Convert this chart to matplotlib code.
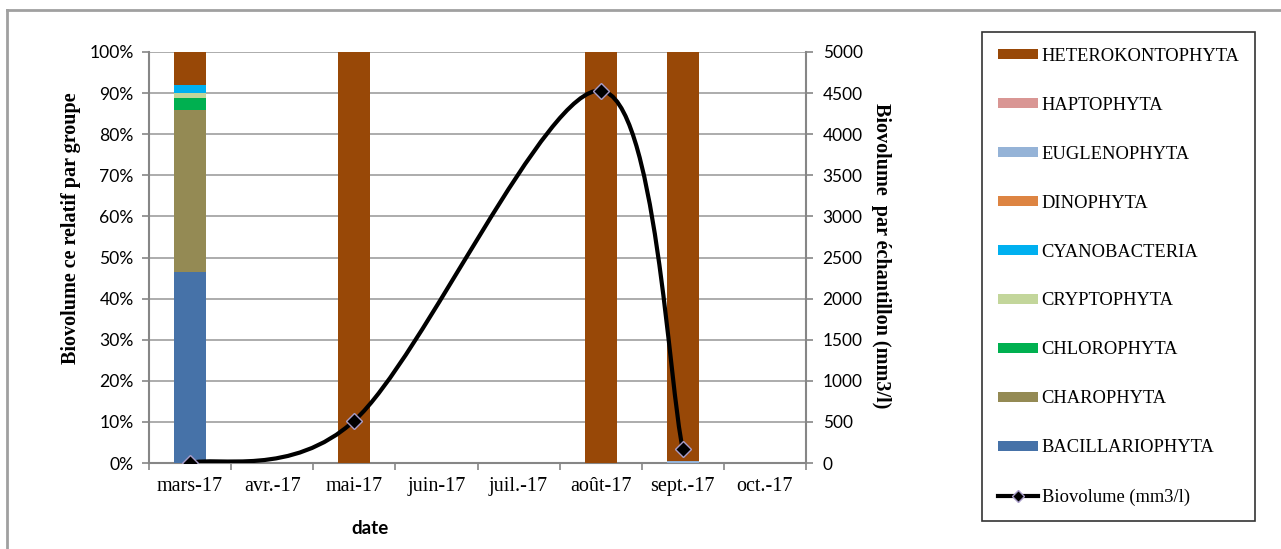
import numpy as np
import matplotlib.pyplot as plt
from matplotlib.path import Path
from matplotlib.patches import PathPatch, Patch
from matplotlib.lines import Line2D

# --- data ---
months = ["mars-17", "avr.-17", "mai-17", "juin-17", "juil.-17", "août-17", "sept.-17", "oct.-17"]
sample_idx = [0, 2, 5, 6]  # mars, mai, août, sept

groups = ["BACILLARIOPHYTA", "CHAROPHYTA", "CHLOROPHYTA", "CRYPTOPHYTA", "CYANOBACTERIA",
          "DINOPHYTA", "EUGLENOPHYTA", "HAPTOPHYTA", "HETEROKONTOPHYTA"]
colors = ["#4672A8", "#948A54", "#00B050", "#C3D69B", "#00B0F0",
          "#DD8442", "#95B3D7", "#D99694", "#984807"]

# relative biovolume (%) per sample
bacillariophyta = [46.4, 0, 0, 0]
charophyta = [39.4, 0, 0, 0]
chlorophyta = [3.1, 0, 0, 0]
cryptophyta = [1.1, 0, 0, 0]
cyanobacteria = [2.0, 0, 0, 0]
dinophyta = [0, 0, 0, 0]
euglenophyta = [0, 0, 0, 0.5]
haptophyta = [0, 0, 0, 0]
heterokontophyta = [8.0, 100, 100, 99.5]

biovolume = [0, 515, 4530, 170]  # mm3/l

stacks = [bacillariophyta, charophyta, chlorophyta, cryptophyta, cyanobacteria,
          dinophyta, euglenophyta, haptophyta, heterokontophyta]

serif = "Liberation Serif"
sans = "Lato"
W, H = 1281, 549

fig = plt.figure(figsize=(W / 100, H / 100), dpi=100)
ax = fig.add_axes([149 / W, 1 - 463 / H, 657 / W, 411 / H])
ax2 = ax.twinx()
ax.set_zorder(1)
ax2.set_zorder(2)
ax2.patch.set_visible(False)

# stacked bars
bottom = np.zeros(len(sample_idx))
for vals, c, name in zip(stacks, colors, groups):
    ax.bar(sample_idx, vals, width=0.39, bottom=bottom, color=c, label=name, zorder=3)
    bottom += np.array(vals)

ax.set_xlim(-0.5, len(months) - 0.5)
ax.set_ylim(0, 100)
ax.set_yticks(np.arange(0, 101, 10))
ax.set_yticklabels([f"{v}%" for v in range(0, 101, 10)], fontsize=12.6, family=sans)
ax.yaxis.grid(True, color="#A6A6A6", linewidth=1.3, zorder=0)
ax.set_axisbelow(True)
ax.set_xticks(np.arange(-0.5, len(months)))
ax.set_xticklabels([])
ax.set_xticks(np.arange(len(months)), minor=True)
ax.set_xticklabels(months, minor=True, family=serif, fontsize=14.5)
ax.tick_params(axis="x", which="major", length=5, color="#868686", width=1.2)
ax.tick_params(axis="x", which="minor", length=0, pad=10)
ax.tick_params(axis="y", length=5, color="#868686", width=1.2, pad=6)
for s in ["top", "right"]:
    ax.spines[s].set_visible(False)
for s in ["left", "bottom"]:
    ax.spines[s].set_color("#868686")
    ax.spines[s].set_linewidth(1.5)

# right axis
ax2.set_ylim(0, 5000)
ax2.set_yticks(np.arange(0, 5001, 500))
ax2.set_yticklabels([str(v) for v in range(0, 5001, 500)], fontsize=12.4, family=sans)
ax2.tick_params(axis="y", length=5, color="#868686", width=1.2, pad=7)
for s in ["top", "left", "bottom"]:
    ax2.spines[s].set_visible(False)
ax2.spines["right"].set_color("#868686")
ax2.spines["right"].set_linewidth(1.5)

# smoothed biovolume line: Excel-like Bezier, built in pixel space
pts = ax2.transData.transform(np.column_stack([sample_idx, biovolume]).astype(float))
verts = [pts[0]]
codes = [Path.MOVETO]
n = len(pts)
for i in range(n - 1):
    p0 = pts[max(i - 1, 0)]
    p1 = pts[i]
    p2 = pts[i + 1]
    p3 = pts[min(i + 2, n - 1)]
    d12 = np.hypot(*(p2 - p1))
    d02 = np.hypot(*(p2 - p0))
    d13 = np.hypot(*(p3 - p1))
    f0 = 1 / 6 if d02 / 6 < d12 / 2 else d12 / (2 * d02)
    f1 = 1 / 6 if d13 / 6 < d12 / 2 else d12 / (2 * d13)
    c1 = p1 + (p2 - p0) * f0
    c2 = p2 - (p3 - p1) * f1
    verts += [c1, c2, p2]
    codes += [Path.CURVE4] * 3
curve = Path(ax2.transData.inverted().transform(np.array(verts)), codes)
ax2.add_patch(PathPatch(curve, facecolor="none", edgecolor="black", linewidth=3, zorder=4))
ax2.plot(sample_idx, biovolume, linestyle="none", marker="D", markersize=8,
         markerfacecolor="black", markeredgecolor="#A89CC8", markeredgewidth=1, zorder=5)

# axis titles
fig.text(71 / W, 1 - 228 / H, "Biovolume ce relatif par groupe", family=serif, fontweight="bold",
         fontsize=14.5, rotation=90, ha="center", va="center")
fig.text(881 / W, 1 - 256 / H, "Biovolume  par échantillon (mm3/l)", family=serif, fontweight="bold",
         fontsize=14.5, rotation=-90, ha="center", va="center")
fig.text(370 / W, 1 - 529 / H, "date", family=sans, fontweight="bold", fontsize=13.5,
         ha="center", va="center")

# legend
handles = [Patch(facecolor=c, edgecolor="none") for c in colors][::-1]
labels = groups[::-1]
handles.append(Line2D([0], [0], color="black", linewidth=3, marker="D", markersize=6,
                      markerfacecolor="black", markeredgecolor="#A89CC8"))
labels.append("Biovolume (mm3/l)")
leg = fig.legend(handles, labels, loc="upper left", bbox_to_anchor=(982 / W, 1 - 32 / H),
                 prop={"family": serif, "size": 13.3}, frameon=True, fancybox=False,
                 edgecolor="black", labelspacing=1.73, handlelength=2.16, handleheight=0.49,
                 handletextpad=0.22, borderpad=0.85, borderaxespad=0)
leg.get_frame().set_linewidth(1.2)

# outer chart border (left and top)
fig.add_artist(Line2D([7 / W, 7 / W], [0, 1 - 10 / H], color="#A0A0A0", linewidth=2))
fig.add_artist(Line2D([7 / W, 1], [1 - 10 / H, 1 - 10 / H], color="#A0A0A0", linewidth=2))

fig.savefig("out.png", dpi=100)
